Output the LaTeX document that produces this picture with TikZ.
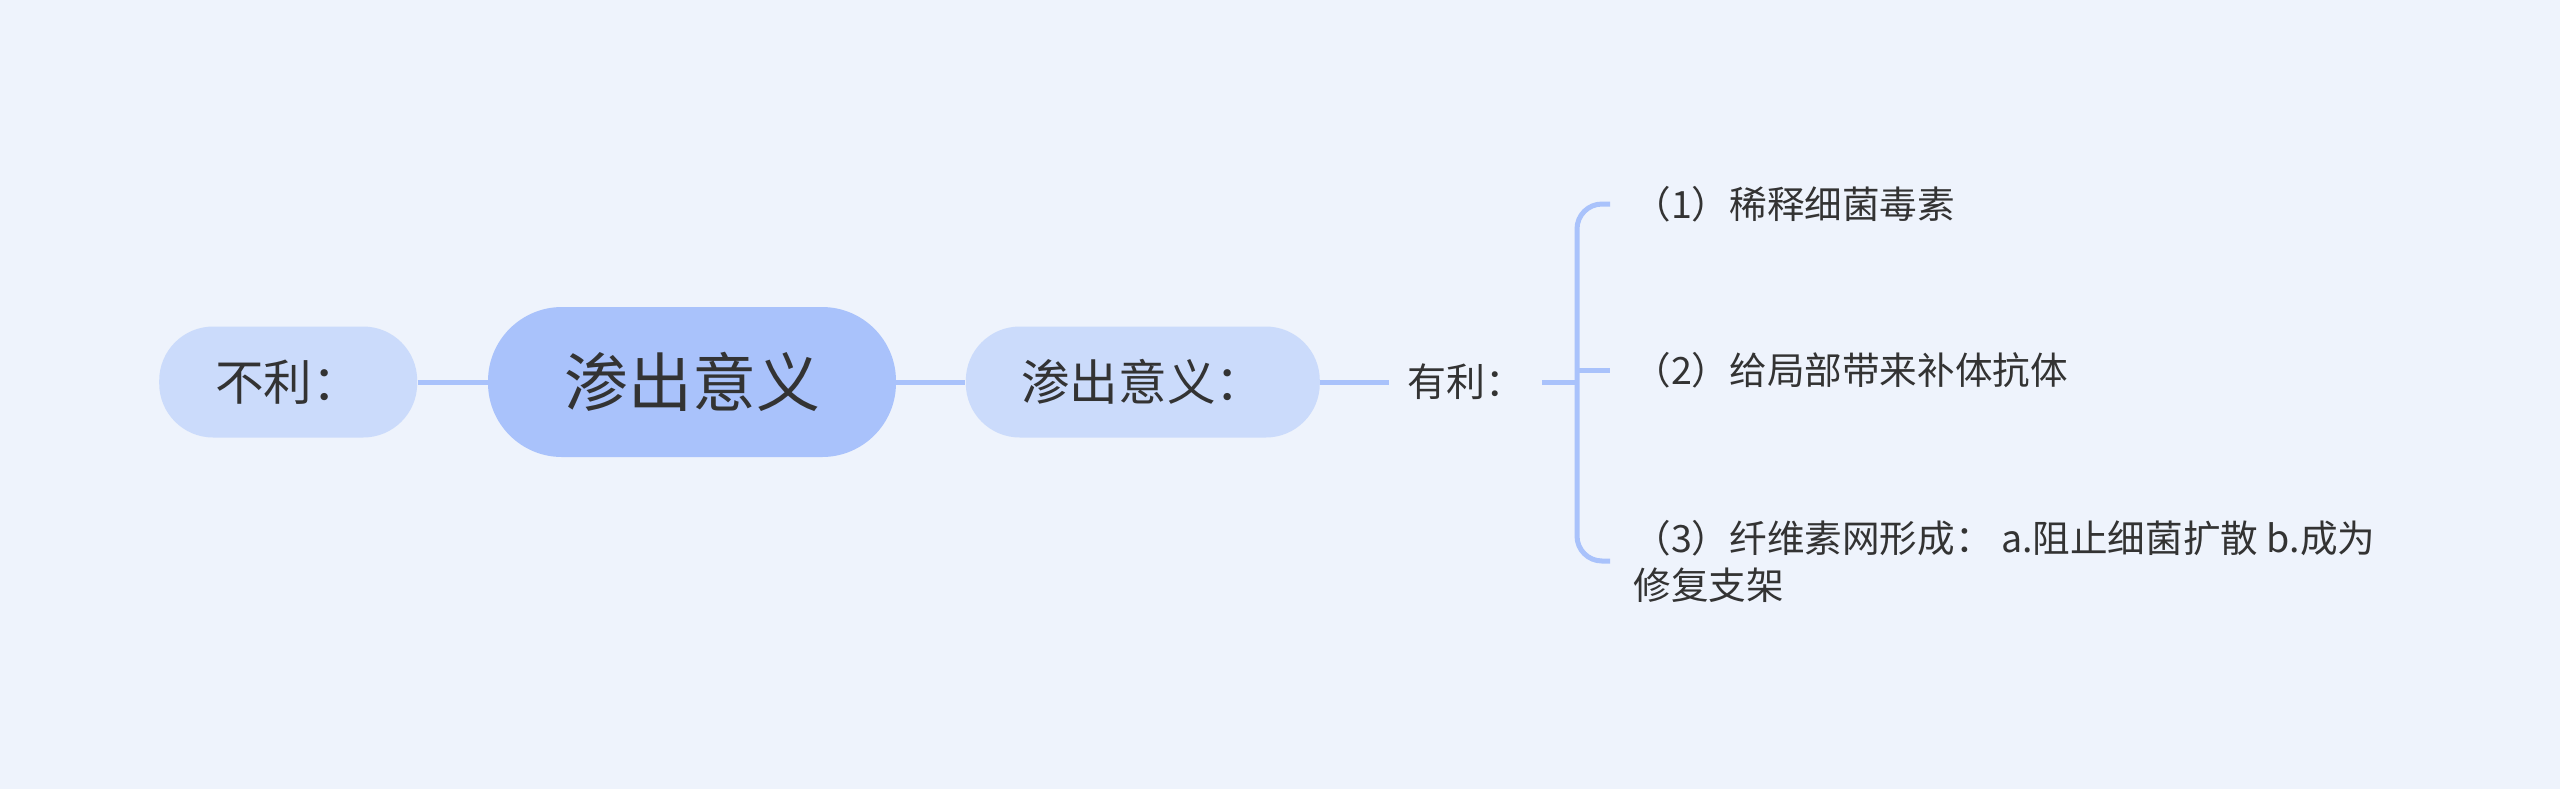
\documentclass[tikz,border=0pt]{standalone}
\usepackage{fontspec}
\setmainfont{Noto Sans CJK SC}
\definecolor{bgcolor}{HTML}{EEF3FC}
\definecolor{corecolor}{HTML}{A9C2FB}
\definecolor{pillcolor}{HTML}{CBDBFB}
\definecolor{linecolor}{HTML}{A9C2FB}
\definecolor{lettercolor}{HTML}{333333}
\usetikzlibrary{positioning}
\tikzset{
	core/.style={
		rectangle,
		rounded corners=37pt,
		fill=corecolor,
		text=lettercolor,
		minimum width=204pt,
		minimum height=75pt,
		font=\fontsize{32pt}{38pt}\selectfont
	},
	pill/.style={
		rectangle,
		rounded corners=27pt,
		fill=pillcolor,
		text=lettercolor,
		minimum height=55.5pt,
		font=\fontsize{24.3pt}{29pt}\selectfont
	},
	plain/.style={
		text=lettercolor,
		inner xsep=8.75pt,
		font=\fontsize{19.5pt}{23pt}\selectfont
	},
	leaf/.style={
		anchor=west,
		text=lettercolor,
		inner xsep=11.5pt,
		align=left,
		font=\fontsize{18.8pt}{23.5pt}\selectfont
	},
	link/.style={
		draw=linecolor,
		line width=2.5pt
	},
}

\begin{document}
\begin{tikzpicture}[x=0.5pt,y=-0.5pt]
				\fill [bgcolor] (0,0) rectangle (2560,789);
				\useasboundingbox (0,0) rectangle (2560,789);
				\node [core] (core) at (692,382) {渗出意义};
				\node [pill,minimum width=129pt] (harm) [left=35pt of core] {不利：};
				\node [pill,minimum width=177pt] (meaning) [right=34.5pt of core] {渗出意义：};
				\node [plain] (benefit) [right=34.5pt of meaning] {有利：};
				\coordinate [right=17.5pt of benefit] (br);
				\node [leaf] (t1) at (1610,204) {（1）稀释细菌毒素};
				\node [leaf] (t2) at (1610,370) {（2）给局部带来补体抗体};
				\node [leaf] (t3) at (1610,561) {（3）纤维素网形成： a.阻止细菌扩散 b.成为\\修复支架};
				
				\path [link]
				(harm) -- (core)
				(core) -- (meaning)
				(meaning) -- (benefit)
				(benefit) -- (br)
				(br |- t2.west) -- (t2.west)
				;
				\draw [link,rounded corners=12.5pt] (t1.west) -| (br) |- (t3.west);
				\end{tikzpicture}
\end{document}
